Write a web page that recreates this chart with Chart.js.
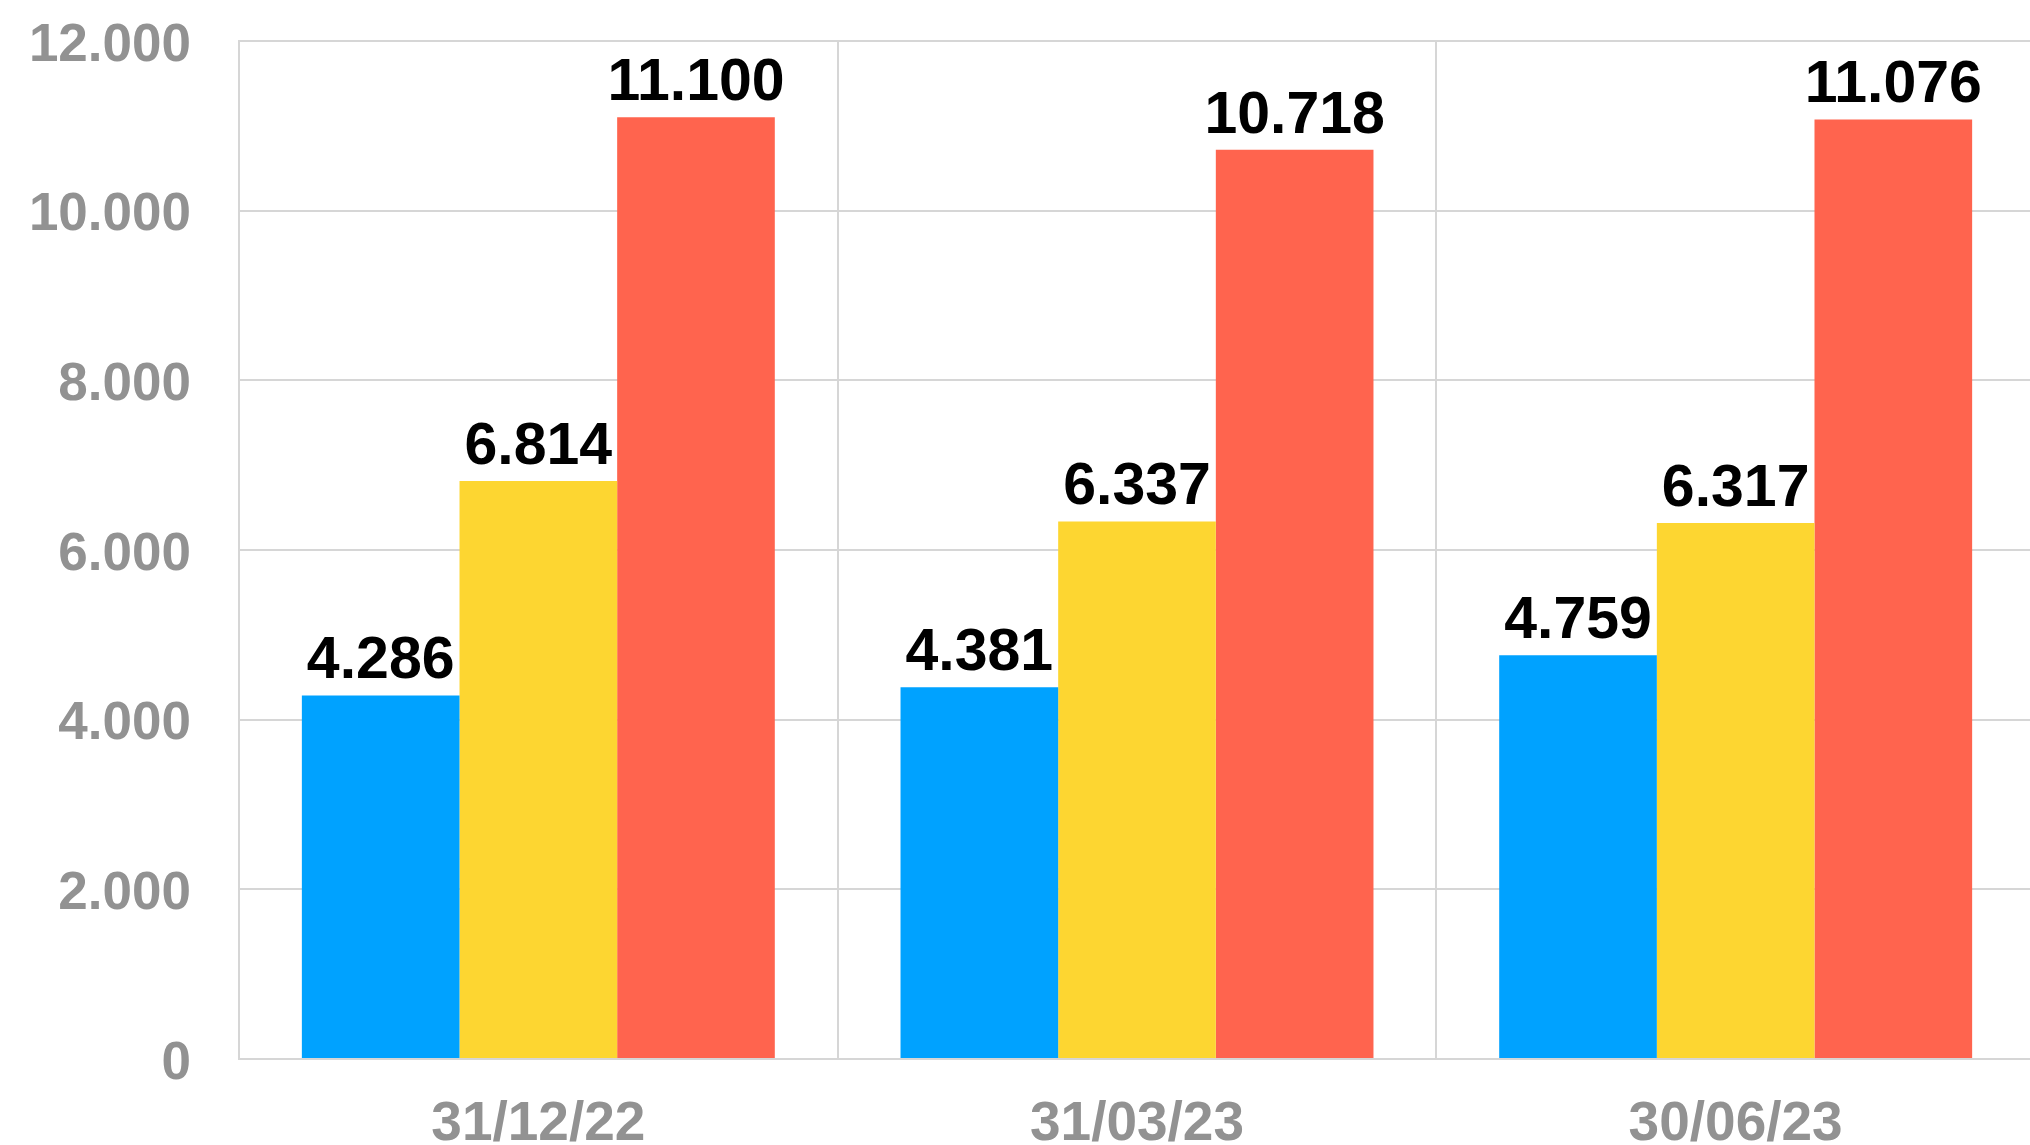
<!DOCTYPE html>
<html>
<head>
<meta charset="utf-8">
<script src="https://cdn.jsdelivr.net/npm/chart.js@4/dist/chart.umd.min.js"></script>
<style>
  html, body { margin: 0; padding: 0; background: #fff; overflow: hidden; }
  #wrap { width: 2035px; height: 1145px; position: relative; }
</style>
</head>
<body>
<div id="wrap"><canvas id="chart"></canvas></div>
<script>
const categories = ["31/12/22", "31/03/23", "30/06/23"];
const blueValues = [4286, 4381, 4759];
const yellowValues = [6814, 6337, 6317];
const redValues = [11100, 10718, 11076];
const yTicks = [0, 2000, 4000, 6000, 8000, 10000, 12000];

const fmt = (v) => String(v).replace(/\B(?=(\d{3})+(?!\d))/g, ".");

// draws the value above each bar, like the original
const valueLabels = {
  id: "valueLabels",
  afterDatasetsDraw(chart) {
    const ctx = chart.ctx;
    ctx.save();
    ctx.font = "bold 59px 'Liberation Sans', Arial, sans-serif";
    ctx.fillStyle = "#000";
    ctx.textAlign = "center";
    ctx.textBaseline = "alphabetic";
    chart.data.datasets.forEach((ds, i) => {
      chart.getDatasetMeta(i).data.forEach((bar, j) => {
        ctx.fillText(fmt(ds.data[j]), bar.x, bar.y - 17);
      });
    });
    ctx.restore();
  },
};

const gridColor = "#d6d6d6";

new Chart(document.getElementById("chart"), {
  type: "bar",
  data: {
    labels: categories,
    datasets: [
      { label: "A", data: blueValues, backgroundColor: "#00a2ff" },
      { label: "B", data: yellowValues, backgroundColor: "#fdd631" },
      { label: "C", data: redValues, backgroundColor: "#ff644e" },
    ],
  },
  options: {
    responsive: true,
    maintainAspectRatio: false,
    animation: false,
    layout: { padding: 0 },
    datasets: { bar: { categoryPercentage: 0.79, barPercentage: 1.0 } },
    plugins: {
      legend: { display: false },
      tooltip: { enabled: false },
    },
    scales: {
      x: {
        grid: { color: gridColor, lineWidth: 2, drawTicks: false, offset: true },
        border: { color: gridColor, width: 2 },
        ticks: {
          color: "#929292",
          font: { family: "'Liberation Sans', Arial, sans-serif", size: 55, weight: "bold" },
          padding: 33,
        },
        afterFit(axis) { axis.height = 86; },
      },
      y: {
        min: 0,
        max: 12000,
        afterBuildTicks(axis) { axis.ticks = yTicks.map((v) => ({ value: v })); },
        grid: { color: gridColor, lineWidth: 2, drawTicks: false },
        border: { color: gridColor, width: 2 },
        ticks: {
          color: "#929292",
          font: { family: "'Liberation Sans', Arial, sans-serif", size: 53, weight: "bold" },
          padding: 48,
          labelOffset: 5,
          callback: (v) => fmt(v),
        },
        afterFit(axis) {
          axis.width = 239;
          axis.paddingTop = 41;
          axis.paddingBottom = 40;
        },
      },
    },
  },
  plugins: [valueLabels],
});
</script>
</body>
</html>
